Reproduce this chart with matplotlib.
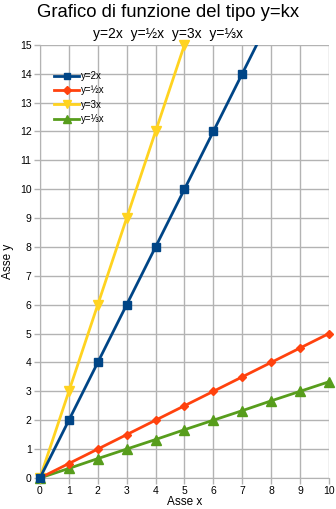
import numpy as np
import matplotlib
matplotlib.use('Agg')
import matplotlib.pyplot as plt

plt.rcParams['font.family'] = ['Liberation Sans', 'DejaVu Sans']

# x values and the four y = kx series
x = [0, 1, 2, 3, 4, 5, 6, 7, 8, 9, 10]
y_2x = [0, 2, 4, 6, 8, 10, 12, 14, 16, 18, 20]
y_half = [0, 0.5, 1, 1.5, 2, 2.5, 3, 3.5, 4, 4.5, 5]
y_3x = [0, 3, 6, 9, 12, 15, 18, 21, 24, 27, 30]
y_third = [0, 0.33, 0.67, 1, 1.33, 1.67, 2, 2.33, 2.67, 3, 3.33]

labels = ['y=2x', 'y=½x', 'y=3x', 'y=⅓x']
x_ticks = list(range(0, 11))
y_ticks = list(range(0, 16))
y_max = 15

fig = plt.figure(figsize=(3.36, 5.09), dpi=100)
ax = fig.add_axes([0.119, 0.061, 0.860, 0.851])

series = [
    (y_2x, '#004586', 's', 6),
    (y_half, '#ff420e', 'D', 4.5),
    (y_3x, '#ffd320', 'v', 6.5),
    (y_third, '#579d1c', '^', 6.5),
]
for i, ((ys, color, marker, ms), label) in enumerate(zip(series, labels)):
    # first series ends up on top, line clipped at the top of the axes
    z = 10 - i
    ax.plot(x, ys, color=color, lw=2, zorder=z)
    xs_in = [a for a, b in zip(x, ys) if b <= y_max]
    ys_in = [b for b in ys if b <= y_max]
    ax.plot(xs_in, ys_in, ls='none', color=color, marker=marker, ms=ms, clip_on=False, zorder=z + 0.5)
    ax.plot([], [], color=color, lw=2, marker=marker, ms=ms * 0.8, label=label)

ax.set_xlim(0, 10)
ax.set_ylim(0, y_max)
ax.set_xticks(x_ticks)
ax.set_yticks(y_ticks)
ax.grid(True, color='#b3b3b3', lw=1)
ax.set_axisbelow(True)
for side in ['top', 'right']:
    ax.spines[side].set_visible(False)
for side in ['left', 'bottom']:
    ax.spines[side].set_color('#b3b3b3')
ax.tick_params(colors='#b3b3b3', labelcolor='black', labelsize=7.5, length=4, width=1, pad=2)

ax.set_xlabel('Asse x', fontsize=8.5, labelpad=0)
ax.set_ylabel('Asse y', fontsize=8.5, labelpad=4)

fig.text(0.5, 0.975, 'Grafico di funzione del tipo y=kx', ha='center', va='center', fontsize=13.3)
fig.text(0.5, 0.934, '  '.join(labels), ha='center', va='center', fontsize=10)

leg = ax.legend(loc='upper left', bbox_to_anchor=(0.025, 0.955), frameon=False, fontsize=7,
                handlelength=2.6, handletextpad=0.2, labelspacing=0.45, borderaxespad=0.3)
leg.set_zorder(20)

fig.savefig('out.png', dpi=100)
